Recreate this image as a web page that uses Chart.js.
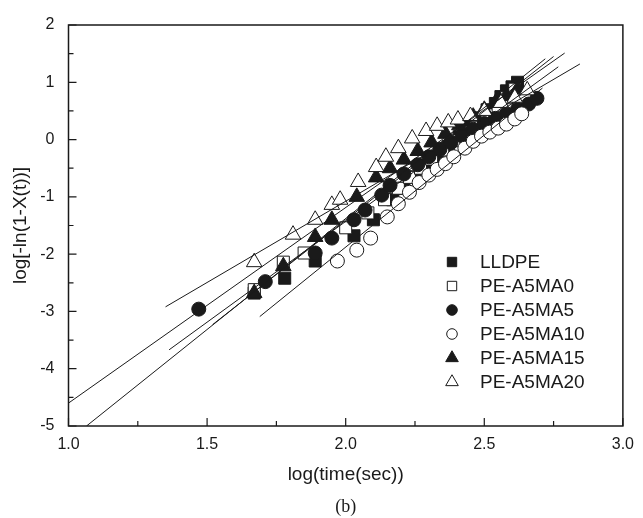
<!DOCTYPE html>
<html>
<head>
<meta charset="utf-8">
<script src="https://cdn.jsdelivr.net/npm/chart.js@4.4.0/dist/chart.umd.min.js"></script>
<style>
  html, body { margin: 0; padding: 0; background: #fff; }
</style>
</head>
<body>
<canvas id="myChart" width="643" height="518"></canvas>
<script>
// series names (legend order)
var seriesNames = ['LLDPE', 'PE-A5MA0', 'PE-A5MA5', 'PE-A5MA10', 'PE-A5MA15', 'PE-A5MA20'];

var lldpeX = [1.67, 1.78, 1.89, 2.03, 2.10, 2.17, 2.21, 2.25, 2.29, 2.33, 2.37, 2.41, 2.45, 2.48, 2.51, 2.54, 2.56, 2.58, 2.60, 2.62];
var lldpeY = [-2.68, -2.42, -2.12, -1.68, -1.40, -1.05, -0.85, -0.65, -0.45, -0.30, -0.12, 0.05, 0.22, 0.38, 0.52, 0.63, 0.75, 0.85, 0.92, 1.00];

var ma0X = [1.67, 1.775, 1.85, 2.00, 2.08, 2.14, 2.19, 2.23, 2.27, 2.31, 2.35, 2.39, 2.43, 2.47, 2.51, 2.55, 2.58, 2.61];
var ma0Y = [-2.62, -2.14, -1.98, -1.54, -1.28, -1.05, -0.85, -0.66, -0.50, -0.34, -0.18, -0.02, 0.13, 0.28, 0.43, 0.58, 0.73, 0.88];

var ma5X = [1.47, 1.71, 1.89, 1.95, 2.03, 2.07, 2.13, 2.16, 2.21, 2.26, 2.30, 2.34, 2.38, 2.42, 2.46, 2.50, 2.54, 2.58, 2.62, 2.66, 2.69];
var ma5Y = [-2.96, -2.48, -1.98, -1.72, -1.40, -1.23, -0.97, -0.80, -0.60, -0.44, -0.30, -0.17, -0.05, 0.07, 0.18, 0.28, 0.37, 0.45, 0.53, 0.62, 0.72];

var ma10X = [1.97, 2.04, 2.09, 2.15, 2.19, 2.23, 2.265, 2.30, 2.33, 2.36, 2.39, 2.43, 2.46, 2.49, 2.52, 2.55, 2.58, 2.61, 2.635];
var ma10Y = [-2.12, -1.93, -1.72, -1.35, -1.12, -0.92, -0.75, -0.62, -0.52, -0.42, -0.30, -0.15, -0.03, 0.06, 0.13, 0.20, 0.27, 0.36, 0.45];

var ma15X = [1.67, 1.775, 1.89, 1.95, 2.04, 2.11, 2.16, 2.21, 2.26, 2.31, 2.36, 2.41, 2.46, 2.50, 2.54, 2.58, 2.62];
var ma15Y = [-2.68, -2.21, -1.70, -1.40, -1.00, -0.66, -0.50, -0.35, -0.20, -0.05, 0.10, 0.25, 0.40, 0.52, 0.64, 0.76, 0.88];

var ma20X = [1.67, 1.81, 1.89, 1.95, 1.98, 2.045, 2.11, 2.145, 2.19, 2.24, 2.29, 2.33, 2.37, 2.405, 2.45, 2.50, 2.56, 2.61, 2.655];
var ma20Y = [-2.14, -1.66, -1.40, -1.14, -1.05, -0.74, -0.48, -0.30, -0.15, 0.02, 0.15, 0.24, 0.30, 0.35, 0.41, 0.50, 0.64, 0.73, 0.86];

// linear fit lines (start / end)
var fitLldpeX = [1.065, 2.72], fitLldpeY = [-5.0, 1.41];
var fitMa0X = [1.52, 2.75],   fitMa0Y = [-3.23, 1.45];
var fitMa5X = [1.0, 2.79],    fitMa5Y = [-4.6, 1.51];
var fitMa10X = [1.69, 2.71],  fitMa10Y = [-3.09, 0.90];
var fitMa15X = [1.363, 2.767], fitMa15Y = [-3.67, 1.27];
var fitMa20X = [1.35, 2.845], fitMa20Y = [-2.92, 1.32];

// axis ticks
var xTicks = [1.0, 1.5, 2.0, 2.5, 3.0];
var yTicks = [-5, -4, -3, -2, -1, 0, 1, 2];

function pts(xs, ys) {
    return xs.map(function (x, i) { return { x: x, y: ys[i] }; });
}

var ink = '#1a1a1a';
var markers = [
    { style: 'rect', fill: ink, r: 8.5 },
    { style: 'rect', fill: '#fff', r: 8.5 },
    { style: 'circle', fill: ink, r: 7 },
    { style: 'circle', fill: '#fff', r: 7 },
    { style: 'triangle', fill: ink, r: 9 },
    { style: 'triangle', fill: '#fff', r: 9 }
];
var seriesX = [lldpeX, ma0X, ma5X, ma10X, ma15X, ma20X];
var seriesY = [lldpeY, ma0Y, ma5Y, ma10Y, ma15Y, ma20Y];
var fitX = [fitLldpeX, fitMa0X, fitMa5X, fitMa10X, fitMa15X, fitMa20X];
var fitY = [fitLldpeY, fitMa0Y, fitMa5Y, fitMa10Y, fitMa15Y, fitMa20Y];

var datasets = [];
seriesNames.forEach(function (name, i) {
    datasets.push({
        type: 'scatter',
        label: name,
        data: pts(seriesX[i], seriesY[i]),
        pointStyle: markers[i].style,
        pointRadius: markers[i].r,
        pointBackgroundColor: markers[i].fill,
        pointBorderColor: ink,
        pointBorderWidth: 1,
        order: 6 - i
    });
});
seriesNames.forEach(function (name, i) {
    datasets.push({
        type: 'line',
        label: name + ' fit',
        data: pts(fitX[i], fitY[i]),
        borderColor: ink,
        borderWidth: 1,
        pointRadius: 0,
        fill: false,
        order: 0
    });
});

function drawMarker(ctx, style, fill, r, x, y) {
    ctx.beginPath();
    if (style === 'rect') {
        ctx.rect(x - r, y - r, 2 * r, 2 * r);
    } else if (style === 'circle') {
        ctx.arc(x, y, r, 0, Math.PI * 2);
    } else {
        ctx.moveTo(x, y - r * 1.15);
        ctx.lineTo(x + r, y + r * 0.58);
        ctx.lineTo(x - r, y + r * 0.58);
        ctx.closePath();
    }
    ctx.fillStyle = fill;
    ctx.fill();
    ctx.lineWidth = 1;
    ctx.strokeStyle = ink;
    ctx.stroke();
}

var framePlugin = {
    id: 'frame',
    afterDraw: function (chart) {
        var ctx = chart.ctx, a = chart.chartArea;
        var sx = chart.scales.x, sy = chart.scales.y;
        ctx.save();
        ctx.strokeStyle = ink;
        ctx.lineWidth = 1.5;
        ctx.strokeRect(a.left, a.top, a.right - a.left, a.bottom - a.top);
        // inward ticks, major + minor
        ctx.lineWidth = 1.2;
        ctx.beginPath();
        for (var v = 1; v <= 3.001; v += 0.25) {
            var px = sx.getPixelForValue(v);
            var len = Math.abs(v * 2 - Math.round(v * 2)) < 0.01 ? 8 : 5;
            ctx.moveTo(px, a.bottom);
            ctx.lineTo(px, a.bottom - len);
        }
        for (var w = -5; w <= 2.001; w += 0.5) {
            var py = sy.getPixelForValue(w);
            var l2 = Math.abs(w - Math.round(w)) < 0.01 ? 8 : 5;
            ctx.moveTo(a.left, py);
            ctx.lineTo(a.left + l2, py);
        }
        ctx.stroke();

        // legend
        ctx.font = '19px "Liberation Sans", Arial, sans-serif';
        ctx.textBaseline = 'middle';
        ctx.textAlign = 'left';
        seriesNames.forEach(function (name, i) {
            var ly = 262 + i * 24;
            var m = markers[i];
            drawMarker(ctx, m.style, m.fill, m.style === 'rect' ? 4.7 : (m.style === 'circle' ? 5.3 : 6.3), 452, ly);
            ctx.fillStyle = ink;
            ctx.fillText(name, 480, ly + 1);
        });

        // panel tag, centred under the plot
        ctx.font = '18px "Liberation Serif", "Times New Roman", serif';
        ctx.textAlign = 'center';
        ctx.fillText('(b)', (a.left + a.right) / 2, 507);
        ctx.restore();
    }
};

var ctx = document.getElementById('myChart').getContext('2d');
var kineticsChart = new Chart(ctx, {
    data: { datasets: datasets },
    options: {
        responsive: false,
        animation: false,
        layout: { padding: { top: 25, right: 12.5, left: 0, bottom: 0 } },
        plugins: {
            legend: { display: false },
            tooltip: { enabled: false }
        },
        scales: {
            x: {
                type: 'linear',
                min: 1,
                max: 3,
                afterFit: function (s) { s.height = 92; },
                afterBuildTicks: function (s) { s.ticks = xTicks.map(function (v) { return { value: v }; }); },
                grid: { display: false, drawTicks: false },
                border: { display: false },
                ticks: {
                    padding: 9,
                    maxRotation: 0,
                    color: ink,
                    font: { family: '"Liberation Sans", Arial, sans-serif', size: 16 },
                    callback: function (v) { return Number(v).toFixed(1); }
                },
                title: {
                    display: true,
                    text: 'log(time(sec))',
                    color: ink,
                    font: { family: '"Liberation Sans", Arial, sans-serif', size: 19 },
                    padding: { top: 0, bottom: 32 }
                }
            },
            y: {
                type: 'linear',
                min: -5,
                max: 2,
                afterFit: function (s) { s.width = 68.5; },
                afterBuildTicks: function (s) { s.ticks = yTicks.map(function (v) { return { value: v }; }); },
                grid: { display: false, drawTicks: false },
                border: { display: false },
                ticks: {
                    padding: 14,
                    color: ink,
                    font: { family: '"Liberation Sans", Arial, sans-serif', size: 16 }
                },
                title: {
                    display: true,
                    text: 'log[-ln(1-X(t))]',
                    color: ink,
                    font: { family: '"Liberation Sans", Arial, sans-serif', size: 19 },
                    padding: { top: 9, bottom: 0 }
                }
            }
        }
    },
    plugins: [framePlugin]
});
</script>
</body>
</html>
